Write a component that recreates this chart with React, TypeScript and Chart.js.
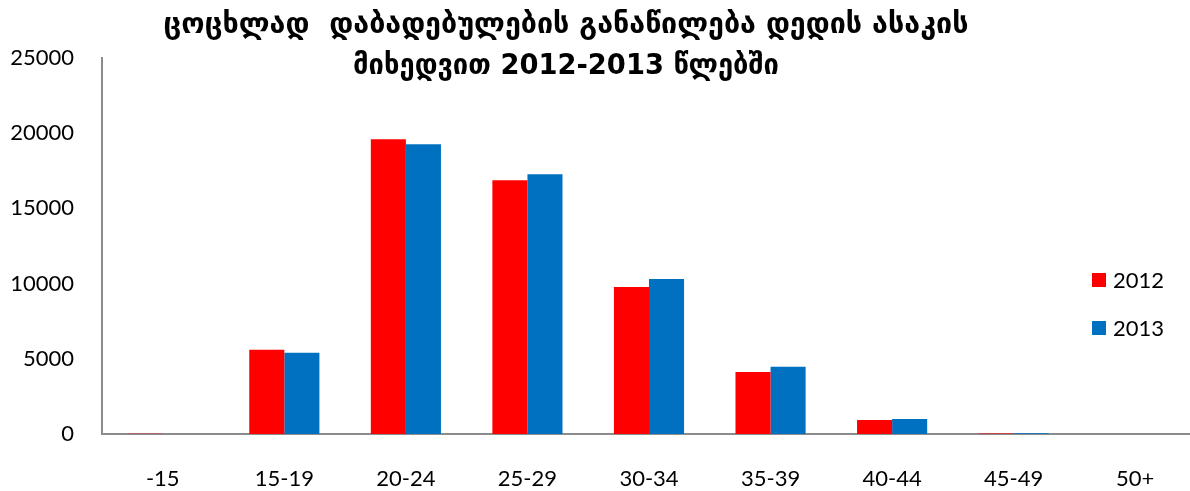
import React, { useEffect, useRef } from "react";
import { Chart, registerables } from "chart.js";

Chart.register(...registerables);

const categories = ["-15", "15-19", "20-24", "25-29", "30-34", "35-39", "40-44", "45-49", "50+"];
const values2012 = [10, 5600, 19600, 16870, 9770, 4130, 930, 40, 0];
const values2013 = [8, 5400, 19270, 17270, 10300, 4470, 1000, 45, 0];
const seriesLabels = ["2012", "2013"];
const seriesColors = ["#FF0000", "#0070C0"];
const titleLines = [
  "ცოცხლად  დაბადებულების განაწილება დედის ასაკის",
  "მიხედვით 2012-2013 წლებში",
];
const yMax = 25000;
const yStep = 5000;

const FONT = "Lato, 'Open Sans', sans-serif";

const overlayPlugin = {
  id: "overlay",
  afterDraw(chart: any) {
    const ctx = chart.ctx;
    ctx.save();
    // title
    ctx.fillStyle = "#000";
    ctx.textAlign = "center";
    ctx.textBaseline = "middle";
    ctx.font = "bold 28px 'DejaVu Sans Condensed', 'DejaVu Sans', sans-serif";
    const targetW = [805, 426];
    const ys = [26, 67];
    titleLines.forEach((line, i) => {
      const w = ctx.measureText(line).width;
      const sx = targetW[i] / w;
      ctx.save();
      ctx.translate(566, ys[i]);
      ctx.scale(sx, 1);
      ctx.fillText(line, 0, 0);
      ctx.restore();
    });
    // legend
    ctx.textAlign = "left";
    ctx.font = "22px " + FONT;
    const ly = [280, 328];
    seriesLabels.forEach((lab, i) => {
      ctx.fillStyle = seriesColors[i];
      ctx.fillRect(1092, ly[i] - 7, 14, 14);
      ctx.fillStyle = "#000";
      ctx.fillText(lab, 1113, ly[i] + 1);
    });
    ctx.restore();
  },
};

export default function App() {
  const ref = useRef<HTMLCanvasElement>(null);
  useEffect(() => {
    const chart = new Chart(ref.current!, {
      type: "bar",
      data: {
        labels: categories,
        datasets: [
          { label: seriesLabels[0], data: values2012, backgroundColor: seriesColors[0], barPercentage: 1, categoryPercentage: 0.577 },
          { label: seriesLabels[1], data: values2013, backgroundColor: seriesColors[1], barPercentage: 1, categoryPercentage: 0.577 },
        ],
      },
      options: {
        animation: false,
        responsive: false,
        maintainAspectRatio: false,
        layout: { padding: { top: 58, right: 0, left: 0, bottom: 0 } },
        plugins: { legend: { display: false }, title: { display: false }, tooltip: { enabled: false } },
        scales: {
          x: {
            grid: { display: false, drawTicks: false },
            border: { color: "#8c8c8c", width: 2 },
            ticks: { color: "#000", font: { size: 22, family: FONT }, padding: 32, maxRotation: 0 },
            afterFit: (s: any) => { s.height = 57; },
          },
          y: {
            min: 0,
            max: yMax,
            grid: { display: false, drawTicks: false },
            border: { color: "#8c8c8c", width: 2 },
            ticks: {
              stepSize: yStep,
              color: "#000",
              font: { size: 22, family: FONT },
              padding: 28,
              callback: (v: any) => String(v),
            },
            afterFit: (s: any) => { s.width = 102; },
          },
        },
      },
      plugins: [overlayPlugin],
    });
    return () => chart.destroy();
  }, []);
  return (
    <div style={{ position: "fixed", left: 0, top: 0, width: 1190, height: 491, background: "#fff", overflow: "hidden" }}>
      <canvas ref={ref} width={1196} height={491} />
    </div>
  );
}
